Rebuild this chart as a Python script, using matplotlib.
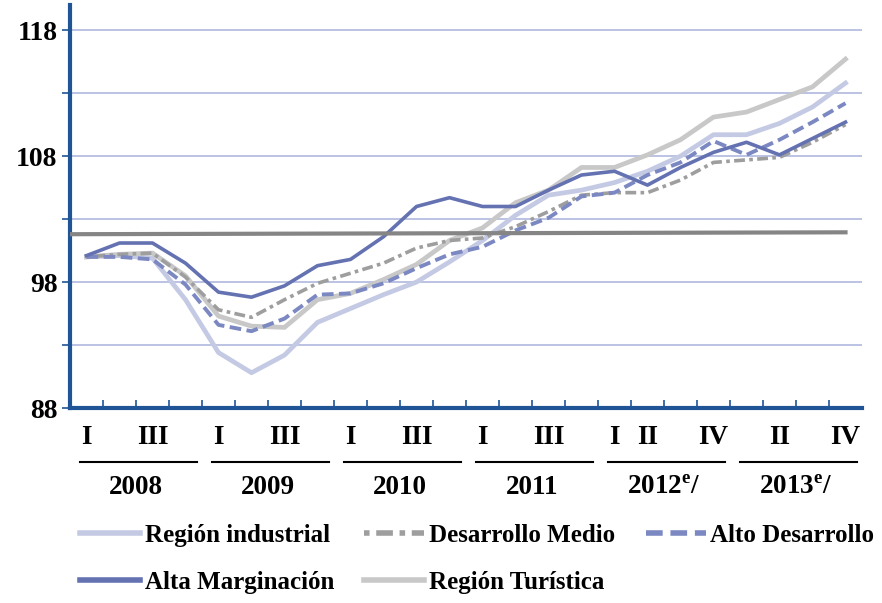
import matplotlib
matplotlib.use('Agg')
import matplotlib.pyplot as plt
import matplotlib.transforms as mtransforms

plt.rcParams['font.family'] = ['Liberation Serif', 'DejaVu Serif']
plt.rcParams['font.weight'] = 'bold'
plt.rcParams['mathtext.fontset'] = 'custom'
plt.rcParams['mathtext.rm'] = 'Liberation Serif:bold'

# quarterly index values 2008-I .. 2013-IV
region_industrial = [100.0, 100.1, 99.9, 96.6, 92.4, 90.8, 92.2, 94.8, 95.9, 97.0, 98.0, 99.6,
                     101.3, 103.3, 104.9, 105.3, 105.9, 106.8, 108.0, 109.7, 109.7, 110.6, 111.9, 113.8]
desarrollo_medio = [100.0, 100.2, 100.3, 98.4, 95.8, 95.2, 96.6, 97.9, 98.7, 99.5, 100.7, 101.3,
                    101.5, 102.4, 103.6, 104.9, 105.1, 105.1, 106.1, 107.5, 107.7, 107.9, 109.1, 110.5]
alto_desarrollo = [100.0, 100.0, 99.8, 97.8, 94.6, 94.1, 95.1, 97.0, 97.1, 97.9, 99.1, 100.2,
                   100.8, 102.1, 103.1, 104.8, 105.1, 106.5, 107.5, 109.2, 108.1, 109.3, 110.7, 112.2]
alta_marginacion = [100.1, 101.1, 101.1, 99.5, 97.2, 96.8, 97.7, 99.3, 99.8, 101.6, 104.0, 104.7,
                    104.0, 104.0, 105.3, 106.5, 106.8, 105.7, 107.1, 108.3, 109.1, 108.1, 109.4, 110.7]
region_turistica = [100.0, 100.2, 100.3, 98.5, 95.3, 94.5, 94.4, 96.6, 97.1, 98.2, 99.4, 101.3,
                    102.3, 104.3, 105.3, 107.1, 107.1, 108.1, 109.3, 111.1, 111.5, 112.5, 113.5, 115.7]
referencia = [101.8, 101.95]

years = ['2008', '2009', '2010', '2011', '2012$^{\\mathrm{e}}$/', '2013$^{\\mathrm{e}}$/']
quarter_labels = {0: 'I', 2: 'III', 4: 'I', 6: 'III', 8: 'I', 10: 'III', 12: 'I', 14: 'III',
                  16: 'I', 17: 'II', 19: 'IV', 21: 'II', 23: 'IV'}

x = list(range(len(region_industrial)))

fig = plt.figure(figsize=(8.82, 6.03), dpi=100)
ax = fig.add_axes([70 / 882, 1 - 408 / 603, 792 / 882, 403 / 603])

ax.plot(x, region_industrial, color='#c5cae4', lw=3.4, label='Región industrial', zorder=3)
ax.plot(x, region_turistica, color='#c8c8c8', lw=3.4, label='Región Turística', zorder=3)
ax.plot(x, desarrollo_medio, color='#9e9e9e', lw=2.6, linestyle=(0, (1, 1.2, 3, 1.2)),
        label='Desarrollo Medio', zorder=4)
ax.plot(x, alto_desarrollo, color='#7b88c2', lw=2.8, linestyle=(0, (3, 1.4)),
        label='Alto Desarrollo', zorder=5)
ax.plot(x, alta_marginacion, color='#6472b2', lw=2.6, label='Alta Marginación', zorder=6)
ax.plot([-0.5, len(x) - 1], referencia, color='#858585', lw=3, zorder=7)

ax.set_xlim(-0.5, len(x) - 0.5)
ax.set_ylim(88, 120)
ax.set_yticks([88, 93, 98, 103, 108, 113, 118])
ax.set_yticklabels(['88', '', '98', '', '108', '', '118'], fontsize=20, fontweight='bold')
ax.yaxis.grid(True, color='#b6bee0', lw=1.3)
ax.set_axisbelow(True)

ax.set_xticks([i + 0.5 for i in range(len(x) - 1)])
ax.set_xticklabels([])
ax.tick_params(axis='x', direction='in', length=5.5, width=1.2, color='#1f5597')
ax.tick_params(axis='y', direction='out', length=6, width=1.2, color='#1f5597', pad=3)

for side in ['top', 'right']:
    ax.spines[side].set_visible(False)
for side in ['left', 'bottom']:
    ax.spines[side].set_color('#1f5597')
    ax.spines[side].set_linewidth(3)

trans = mtransforms.blended_transform_factory(ax.transData, fig.transFigure)
for pos, lab in quarter_labels.items():
    ax.text(pos, 1 - 437 / 603, lab, transform=trans, ha='center', va='center',
            fontsize=19.5, fontweight='bold')
for k, yr in enumerate(years):
    ax.plot([4 * k - 0.2, 4 * k + 3.35], [1 - 462 / 603] * 2, transform=trans,
            color='black', lw=1.5, clip_on=False)
    ax.text(4 * k + 1.5, 1 - 488 / 603, yr, transform=trans, ha='center', va='center',
            fontsize=19.5, fontweight='bold')

handles, labels = ax.get_legend_handles_labels()
order = ['Región industrial', 'Alta Marginación', 'Desarrollo Medio', 'Región Turística', 'Alto Desarrollo']
hmap = dict(zip(labels, handles))
leg = fig.legend([hmap[k] for k in order], order, ncol=3, loc='upper left',
                 bbox_to_anchor=(80 / 882, 1 - 524 / 603), frameon=False,
                 prop={'family': 'Liberation Serif', 'weight': 'bold', 'size': 18},
                 handlelength=2.4, handletextpad=0.2, columnspacing=1.2, labelspacing=0.95,
                 borderpad=0, borderaxespad=0)
for line in leg.get_lines():
    line.set_linewidth(4)

fig.savefig('out.png', dpi=100)
